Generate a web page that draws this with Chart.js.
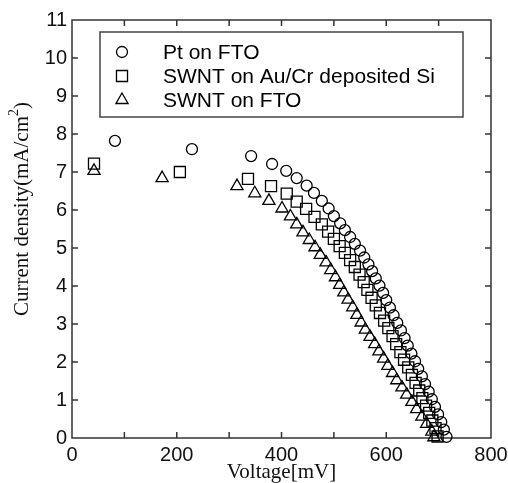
<!DOCTYPE html>
<html>
<head>
<meta charset="utf-8">
<script src="https://cdn.jsdelivr.net/npm/chart.js@4.4.1/dist/chart.umd.min.js"></script>
<style>
  html, body { margin: 0; padding: 0; background: #fff; }
  #wrap { width: 508px; height: 483px; }
</style>
</head>
<body>
<div id="wrap"><canvas id="jvChart" width="508" height="483"></canvas></div>
<script>
// J-V curves (voltage in mV, current density in mA/cm2)
const seriesLabels = ['Pt on FTO', 'SWNT on Au/Cr deposited Si', 'SWNT on FTO'];

const ptVoltage = [82, 229, 342, 382, 409, 429, 448, 462, 477, 490, 500, 512, 521, 531, 540, 550, 558, 566, 573, 580,
  587, 594, 600, 607, 614, 621, 628, 635, 641, 648, 655, 661, 668, 674, 681, 687, 693, 699, 705, 710, 715];
const ptCurrent = [7.82, 7.6, 7.42, 7.21, 7.03, 6.84, 6.64, 6.45, 6.24, 6.04, 5.84, 5.65, 5.47, 5.29, 5.11, 4.93, 4.75, 4.57, 4.39, 4.2,
  4.01, 3.82, 3.63, 3.43, 3.23, 3.03, 2.83, 2.63, 2.43, 2.22, 2.02, 1.82, 1.62, 1.42, 1.22, 1.02, 0.82, 0.62, 0.42, 0.22, 0.03];

const auVoltage = [42, 206, 336, 380, 410, 429, 447, 463, 477, 489, 500, 511, 521, 531, 540, 549, 557, 564, 572,
  580, 588, 596, 604, 612, 619, 627, 634, 642, 649, 656, 663, 669, 676, 682, 688, 694, 698];
const auCurrent = [7.22, 7.0, 6.82, 6.63, 6.43, 6.22, 6.03, 5.82, 5.62, 5.43, 5.24, 5.05, 4.87, 4.68, 4.5, 4.3, 4.1, 3.9, 3.69,
  3.49, 3.29, 3.09, 2.89, 2.68, 2.47, 2.26, 2.06, 1.86, 1.66, 1.45, 1.25, 1.05, 0.85, 0.66, 0.46, 0.26, 0.04];

const ftoVoltage = [42, 172, 315, 349, 376, 401, 417, 429, 441, 453, 464, 474, 485, 494, 503, 511, 519, 527, 536, 544,
  552, 560, 569, 578, 586, 595, 603, 612, 620, 630, 639, 649, 658, 668, 677, 687, 691];
const ftoCurrent = [7.03, 6.84, 6.63, 6.44, 6.24, 6.04, 5.83, 5.62, 5.41, 5.21, 5.02, 4.82, 4.62, 4.42, 4.23, 4.03, 3.83, 3.64, 3.44, 3.24,
  3.04, 2.85, 2.66, 2.47, 2.28, 2.09, 1.9, 1.71, 1.52, 1.33, 1.14, 0.95, 0.76, 0.56, 0.37, 0.17, 0.02];

function toPoints(xs, ys) {
  return xs.map((v, i) => ({ x: v, y: ys[i] }));
}

const markerStyles = [
  { pointStyle: 'circle', radius: 5.5 },
  { pointStyle: 'rect', radius: 7.8 },
  { pointStyle: 'triangle', radius: 7 }
];

// box with inward ticks on all four sides
const framePlugin = {
  id: 'frame',
  beforeDatasetsDraw(chart) {
    const { ctx, chartArea: a, scales: { x, y } } = chart;
    ctx.save();
    ctx.strokeStyle = '#333';
    ctx.lineWidth = 1.5;
    ctx.strokeRect(a.left, a.top, a.right - a.left, a.bottom - a.top);
    ctx.beginPath();
    for (let v = x.min + 100; v < x.max; v += 100) {
      const px = x.getPixelForValue(v);
      ctx.moveTo(px, a.bottom); ctx.lineTo(px, a.bottom - 6);
      ctx.moveTo(px, a.top); ctx.lineTo(px, a.top + 6);
    }
    for (let v = y.min + 1; v < y.max; v += 1) {
      const py = y.getPixelForValue(v);
      ctx.moveTo(a.left, py); ctx.lineTo(a.left + 6, py);
      ctx.moveTo(a.right, py); ctx.lineTo(a.right - 6, py);
    }
    ctx.stroke();
    ctx.restore();
  },
  afterDraw(chart) {
    const { ctx, chartArea: a } = chart;
    ctx.save();
    // axis titles
    ctx.fillStyle = '#111';
    ctx.font = '21px "Liberation Serif", "Times New Roman", serif';
    ctx.textAlign = 'center';
    ctx.textBaseline = 'alphabetic';
    ctx.fillText('Voltage[mV]', (a.left + a.right) / 2, 478);

    ctx.translate(28, 209);
    ctx.rotate(-Math.PI / 2);
    const main = 'Current density(mA/cm';
    ctx.font = '21px "Liberation Serif", "Times New Roman", serif';
    const w1 = ctx.measureText(main).width;
    const w3 = ctx.measureText(')').width;
    ctx.font = '14px "Liberation Serif", "Times New Roman", serif';
    const w2 = ctx.measureText('2').width;
    let sx = -(w1 + w2 + w3) / 2;
    ctx.textAlign = 'left';
    ctx.font = '21px "Liberation Serif", "Times New Roman", serif';
    ctx.fillText(main, sx, 0);
    ctx.font = '14px "Liberation Serif", "Times New Roman", serif';
    ctx.fillText('2', sx + w1, -10);
    ctx.font = '21px "Liberation Serif", "Times New Roman", serif';
    ctx.fillText(')', sx + w1 + w2, 0);
    ctx.restore();

    // legend box
    ctx.save();
    ctx.strokeStyle = '#444';
    ctx.lineWidth = 1.5;
    ctx.fillStyle = '#fff';
    ctx.fillRect(100, 32, 363, 85);
    ctx.strokeRect(100, 32, 363, 85);
    const rows = [52, 76, 100];
    chart.data.datasets.forEach((ds, i) => {
      ctx.strokeStyle = '#000';
      ctx.fillStyle = 'rgba(0,0,0,0)';
      ctx.lineWidth = 1.3;
      Chart.helpers.drawPoint(ctx, {
        pointStyle: markerStyles[i].pointStyle,
        radius: markerStyles[i].radius,
        rotation: 0,
        borderWidth: 1.3
      }, 122, rows[i]);
      ctx.fillStyle = '#000';
      ctx.font = '21px "Liberation Sans", Arial, sans-serif';
      ctx.textAlign = 'left';
      ctx.textBaseline = 'middle';
      ctx.fillText(ds.label, 163, rows[i] + 1);
    });
    ctx.restore();
  }
};

const ctx = document.getElementById('jvChart').getContext('2d');
new Chart(ctx, {
  type: 'scatter',
  data: {
    datasets: [
      { label: seriesLabels[0], data: toPoints(ptVoltage, ptCurrent) },
      { label: seriesLabels[1], data: toPoints(auVoltage, auCurrent) },
      { label: seriesLabels[2], data: toPoints(ftoVoltage, ftoCurrent) }
    ].map((ds, i) => Object.assign(ds, {
      pointStyle: markerStyles[i].pointStyle,
      pointRadius: markerStyles[i].radius,
      pointHoverRadius: markerStyles[i].radius,
      borderColor: '#000',
      backgroundColor: 'rgba(0,0,0,0)',
      pointBorderWidth: 1.3,
      showLine: false,
      clip: false
    }))
  },
  options: {
    responsive: false,
    animation: false,
    layout: { padding: { left: 0, top: 20, right: 0, bottom: 0 } },
    scales: {
      x: {
        type: 'linear',
        min: 0,
        max: 800,
        ticks: { stepSize: 200, color: '#111', padding: 5, maxRotation: 0,
          font: { family: '"Liberation Sans", Arial, sans-serif', size: 20 } },
        grid: { display: false, drawTicks: false },
        border: { display: false },
        afterFit(scale) {
          scale.height = 45;
          scale.paddingLeft = 0;
          scale.paddingRight = 17;
        }
      },
      y: {
        min: 0,
        max: 11,
        ticks: { stepSize: 1, color: '#111', padding: 5,
          font: { family: '"Liberation Sans", Arial, sans-serif', size: 20 } },
        grid: { display: false, drawTicks: false },
        border: { display: false },
        afterFit(scale) {
          scale.width = 72;
          scale.paddingTop = 0;
          scale.paddingBottom = 0;
        }
      }
    },
    plugins: {
      legend: { display: false },
      tooltip: { enabled: false }
    }
  },
  plugins: [framePlugin]
});
</script>
</body>
</html>
